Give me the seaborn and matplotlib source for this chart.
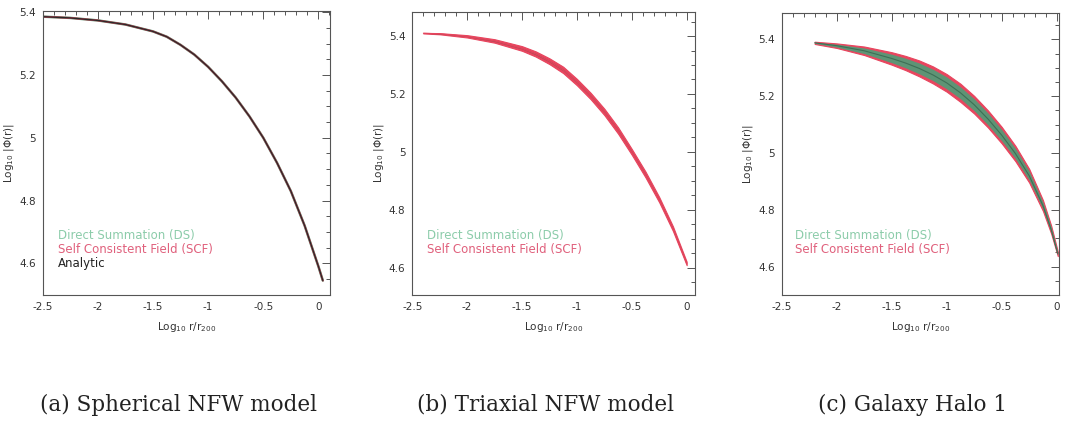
import numpy as np
import pandas as pd
import seaborn as sns
import matplotlib.pyplot as plt
from matplotlib.ticker import MultipleLocator

# ---- values ----
# (a) spherical NFW: analytic, DS and SCF curves lie on top of each other
a_x = [-2.5, -2.25, -2.0, -1.75, -1.5, -1.375, -1.25, -1.125, -1.0, -0.875, -0.75,
       -0.625, -0.5, -0.375, -0.25, -0.125, 0.0, 0.04]
a_y = [5.386, 5.382, 5.374, 5.361, 5.339, 5.322, 5.296, 5.265, 5.226, 5.18, 5.128,
       5.068, 5.0, 4.92, 4.83, 4.72, 4.59, 4.545]

# (b) triaxial NFW: red SCF band with a thin DS core
b_x = [-2.4, -2.25, -2.0, -1.75, -1.5, -1.375, -1.25, -1.125, -1.0, -0.875, -0.75,
       -0.625, -0.5, -0.375, -0.25, -0.125, 0.0]
b_y = [5.41, 5.408, 5.399, 5.383, 5.357, 5.338, 5.313, 5.283, 5.241, 5.193, 5.138,
       5.074, 5.0, 4.922, 4.835, 4.735, 4.615]
b_red_hw = [0.001, 0.002, 0.004, 0.006, 0.008, 0.009, 0.010, 0.011, 0.011, 0.011, 0.011,
            0.011, 0.010, 0.010, 0.009, 0.008, 0.006]
b_green_hw = [0.0005, 0.001, 0.001, 0.002, 0.002, 0.003, 0.003, 0.003, 0.003, 0.003, 0.003,
              0.003, 0.003, 0.003, 0.002, 0.002, 0.002]

# (c) galaxy halo 1: wide SCF band, DS band inside it
c_x = [-2.2, -2.0, -1.75, -1.5, -1.375, -1.25, -1.125, -1.0, -0.875, -0.75, -0.625,
       -0.5, -0.375, -0.25, -0.125, -0.05, 0.01]
c_y = [5.388, 5.378, 5.36, 5.333, 5.317, 5.298, 5.275, 5.247, 5.212, 5.17, 5.12,
       5.063, 4.998, 4.92, 4.815, 4.73, 4.645]
c_red_hw = [0.004, 0.008, 0.015, 0.022, 0.025, 0.028, 0.030, 0.031, 0.032, 0.031, 0.030,
            0.029, 0.027, 0.024, 0.019, 0.014, 0.008]
c_green_hw = [0.002, 0.005, 0.010, 0.015, 0.017, 0.019, 0.020, 0.021, 0.021, 0.021, 0.021,
              0.020, 0.018, 0.016, 0.012, 0.009, 0.005]

captions = ['(a) Spherical NFW model', '(b) Triaxial NFW model', '(c) Galaxy Halo 1']
x_ticks = [-2.5, -2.0, -1.5, -1.0, -0.5, 0.0]
x_ticklabels = ['-2.5', '-2', '-1.5', '-1', '-0.5', '0']
y_ticks = [4.6, 4.8, 5.0, 5.2, 5.4]
y_ticklabels = ['4.6', '4.8', '5', '5.2', '5.4']

GREEN = '#4f9e78'
RED = '#e8455e'
FRAME = '#555555'

sns.set_theme(style='white')
plt.rcParams['font.family'] = ['DejaVu Sans']
plt.rcParams['axes.unicode_minus'] = False

fig = plt.figure(figsize=(10.69, 4.25), dpi=100)
W, H = 1069, 425
boxes = [(42.7, 330, 10.7, 295), (412.3, 695, 11.7, 295), (781.7, 1059, 13.3, 295)]
xlims = [(-2.5, 0.105), (-2.5, 0.076), (-2.5, 0.021)]
ylims = [(4.499, 5.405), (4.506, 5.484), (4.50, 5.492)]
axes = []
for (l, r, t, b) in boxes:
    axes.append(fig.add_axes([l / W, 1 - b / H, (r - l) / W, (b - t) / H]))

# panel a
ax = axes[0]
sns.lineplot(x=a_x, y=a_y, ax=ax, color=GREEN, lw=1.8, sort=False)
sns.lineplot(x=a_x, y=a_y, ax=ax, color=RED, lw=1.4, sort=False)
sns.lineplot(x=a_x, y=a_y, ax=ax, color='#2a2a2a', lw=1.0, sort=False)

# panel b
ax = axes[1]
by = np.array(b_y)
ax.fill_between(b_x, by - np.array(b_red_hw), by + np.array(b_red_hw), color=RED, lw=0.8, ec=RED)
ax.fill_between(b_x, by - np.array(b_green_hw), by + np.array(b_green_hw), color='#b04a55', lw=0)
sns.lineplot(x=b_x, y=b_y, ax=ax, color=RED, lw=0.6, sort=False)

# panel c
ax = axes[2]
cy = np.array(c_y)
ax.fill_between(c_x, cy - np.array(c_red_hw), cy + np.array(c_red_hw), color=RED, lw=0.8, ec=RED)
ax.fill_between(c_x, cy - np.array(c_green_hw), cy + np.array(c_green_hw), color=GREEN, lw=0, alpha=0.9)
sns.lineplot(x=c_x, y=c_y, ax=ax, color='#3d6f55', lw=0.8, sort=False)

legend_rows = [
    [('Direct Summation (DS)', '#8cccaa'), ('Self Consistent Field (SCF)', '#e0607c'), ('Analytic', '#222222')],
    [('Direct Summation (DS)', '#8cccaa'), ('Self Consistent Field (SCF)', '#e0607c')],
    [('Direct Summation (DS)', '#8cccaa'), ('Self Consistent Field (SCF)', '#e0607c')],
]
legend_x = [58, 427, 795]

for i, ax in enumerate(axes):
    ax.set_xlim(*xlims[i])
    ax.set_ylim(*ylims[i])
    ax.set_xticks(x_ticks)
    ax.set_xticklabels(x_ticklabels)
    ax.set_yticks(y_ticks)
    ax.set_yticklabels(y_ticklabels)
    ax.xaxis.set_minor_locator(MultipleLocator(0.1))
    ax.yaxis.set_minor_locator(MultipleLocator(0.05))
    ax.tick_params(which='both', direction='in', top=True, right=True, colors=FRAME,
                   labelcolor='#333333', labelsize=7.5, width=0.7)
    ax.tick_params(which='major', length=6, pad=5)
    ax.tick_params(which='minor', length=3)
    for s in ax.spines.values():
        s.set_color(FRAME)
        s.set_linewidth(0.8)
    ax.set_xlabel(r'Log$_{10}$ r/r$_{200}$', fontsize=7.5, color='#333333', labelpad=6)
    ax.set_ylabel(r'Log$_{10}$ |$\Phi$(r)|', fontsize=7.5, color='#333333', labelpad=2)
    l, r, t, b = boxes[i]
    for j, (txt, col) in enumerate(legend_rows[i]):
        fig.text(legend_x[i] / W, 1 - (235 + 14 * j) / H, txt, color=col, fontsize=8.5,
                 va='center', ha='left')
    fig.text(((l + r) / 2 - 8) / W, 1 - 405 / H, captions[i], fontsize=15.5,
             family='DejaVu Serif', ha='center', va='center', color='#222222')

fig.savefig('out.png', dpi=100)
